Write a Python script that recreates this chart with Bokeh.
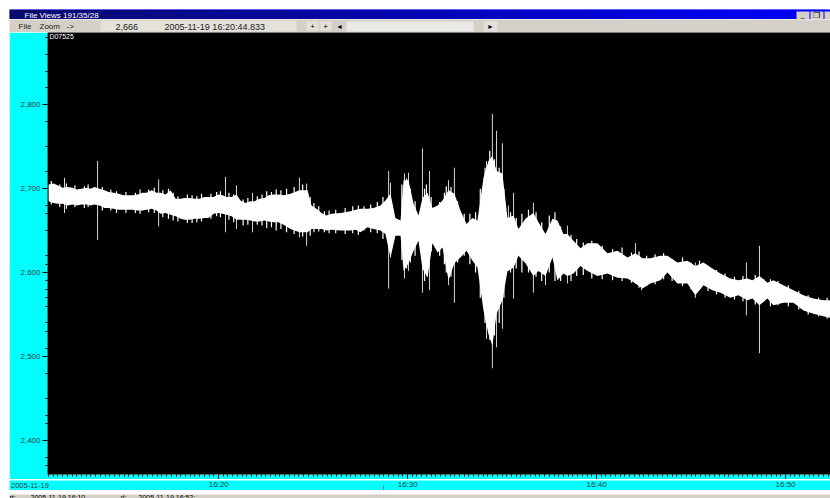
from bokeh.plotting import figure
from bokeh.models import FixedTicker, NumeralTickFormatter, Range1d
from bokeh.core.properties import value
from bokeh.layouts import column
from bokeh.embed import file_html
from bokeh.resources import INLINE
import numpy as np

# minutes after midnight, trace min/max envelope
t_min = [971.01, 971.27, 971.48, 971.75, 972.01, 972.28, 972.49, 972.75, 973.02, 973.23, 973.44, 973.70,
         973.97, 974.18, 974.45, 974.71, 974.97, 975.24, 975.45, 975.72, 975.98, 976.19, 976.46, 976.72,
         976.93, 977.20, 977.46, 977.73, 977.99, 978.20, 978.47, 978.73, 978.99, 979.26, 979.47, 979.74,
         980.00, 980.21, 980.42, 980.69, 980.95, 981.16, 981.43, 981.69, 981.90, 982.17, 982.43, 982.65,
         982.91, 983.17, 983.44, 983.81, 984.28, 984.71, 984.92, 985.18, 985.45, 985.71, 985.98, 986.45,
         986.98, 987.25, 987.51, 987.88, 988.20, 988.57, 988.83, 989.10, 989.36, 989.63, 989.79, 990.05,
         990.32, 990.58, 990.79, 991.06, 991.32, 991.59, 991.85, 992.17, 992.48, 992.80, 993.12, 993.44,
         993.70, 994.02, 994.28, 994.49, 994.71, 995.02, 995.29, 995.61, 995.87, 996.24, 996.66, 996.93,
         997.30, 997.67, 997.93, 998.25, 998.46, 998.78, 999.15, 999.52, 1000.05, 1000.58, 1001.11, 1001.64,
         1002.06, 1002.43, 1002.85, 1003.38, 1003.75, 1004.28, 1004.81, 1005.23, 1005.66, 1006.13, 1006.56,
         1007.08, 1007.51, 1007.98, 1008.25, 1008.62, 1009.04, 1009.36, 1009.89, 1010.42, 1010.95, 1011.48,
         1012.00, 1012.38]
env_hi = [2705, 2706, 2704, 2701, 2702, 2701, 2699, 2700, 2701, 2700, 2702, 2700,
          2698, 2696, 2695, 2694, 2692, 2692, 2692, 2693, 2695, 2695, 2698, 2695,
          2695, 2693, 2698, 2688, 2688, 2689, 2689, 2688, 2688, 2690, 2690, 2690,
          2693, 2692, 2690, 2690, 2693, 2686, 2683, 2685, 2685, 2688, 2689, 2692,
          2693, 2693, 2692, 2694, 2698, 2698, 2680, 2676, 2671, 2668, 2670, 2671,
          2673, 2675, 2676, 2676, 2677, 2680, 2686, 2694, 2665, 2662, 2710, 2710,
          2682, 2668, 2689, 2695, 2677, 2680, 2686, 2698, 2694, 2674, 2658, 2665,
          2662, 2713, 2733, 2739, 2721, 2718, 2665, 2668, 2652, 2664, 2671, 2660,
          2646, 2664, 2662, 2646, 2646, 2638, 2629, 2635, 2635, 2623, 2626, 2618,
          2623, 2617, 2617, 2620, 2620, 2612, 2614, 2608, 2612, 2605, 2599,
          2593, 2591, 2593, 2591, 2596, 2588, 2591, 2585, 2579, 2573, 2569,
          2567, 2567]
env_lo = [2685, 2683, 2682, 2682, 2680, 2681, 2680, 2681, 2681, 2680, 2681, 2680,
          2677, 2677, 2676, 2675, 2675, 2675, 2675, 2674, 2674, 2675, 2676, 2674,
          2670, 2671, 2669, 2667, 2664, 2663, 2663, 2664, 2664, 2665, 2665, 2670,
          2671, 2670, 2669, 2667, 2663, 2663, 2663, 2662, 2661, 2661, 2662, 2661,
          2660, 2660, 2657, 2652, 2648, 2648, 2652, 2652, 2652, 2650, 2651, 2650,
          2650, 2651, 2648, 2654, 2652, 2650, 2646, 2618, 2644, 2644, 2602, 2611,
          2626, 2638, 2605, 2594, 2635, 2624, 2630, 2591, 2611, 2618, 2626, 2614,
          2606, 2555, 2527, 2513, 2551, 2567, 2602, 2606, 2620, 2611, 2596, 2602,
          2596, 2618, 2591, 2599, 2596, 2599, 2608, 2602, 2596, 2599, 2594, 2593,
          2587, 2581, 2587, 2591, 2600, 2587, 2587, 2573, 2585, 2579, 2576,
          2570, 2573, 2567, 2569, 2561, 2569, 2561, 2564, 2564, 2555, 2551,
          2548, 2546]

# short white columns, the rough edge of the band
fuzz_t = [971.15, 971.6, 971.95, 972.4, 972.9, 973.1, 973.85, 974.3, 974.6, 975.1, 975.6, 975.85, 976.3, 976.6,
          977.05, 977.35, 977.6, 977.85, 978.35, 978.6, 978.85, 979.1, 979.6, 979.9, 980.1, 980.55, 980.8, 981.3,
          981.55, 982.05, 982.3, 982.55, 982.8, 983.05, 983.3, 983.6, 984.0, 984.45, 984.85, 985.05, 985.3, 985.6,
          985.85, 986.2, 986.7, 987.1, 987.4, 987.7, 988.05, 988.4, 988.7, 989.7, 989.95, 990.15, 990.4, 990.9,
          991.0, 991.25, 991.7, 991.95, 992.05, 992.3, 992.65, 993.0, 993.3, 993.6, 993.85, 994.1, 994.35, 994.6,
          994.85, 995.1, 995.45, 995.75, 996.05, 996.4, 996.8, 997.1, 997.5, 997.8, 998.1, 998.65, 998.95, 999.3,
          999.75, 1000.3, 1000.85, 1001.35, 1001.85, 1002.25, 1002.65, 1003.1, 1003.55, 1004.0, 1004.55, 1005.0,
          1005.45, 1005.9, 1006.35, 1006.8, 1007.3, 1007.75, 1008.4, 1008.85, 1009.2, 1009.6, 1010.15, 1010.7,
          1011.2, 1011.75, 1012.2]
fuzz_hi = [2709, 2705, 2706, 2704, 2703, 2705, 2702, 2699, 2697, 2696, 2695, 2699, 2699, 2701,
           2698, 2700, 2695, 2691, 2693, 2692, 2691, 2694, 2694, 2696, 2697, 2695, 2693, 2687,
           2689, 2691, 2693, 2697, 2696, 2699, 2698, 2700, 2702, 2705, 2690, 2683, 2679, 2673,
           2674, 2675, 2677, 2679, 2680, 2679, 2681, 2684, 2690, 2705, 2712, 2700, 2685, 2700,
           2705, 2690, 2684, 2695, 2703, 2702, 2685, 2670, 2670, 2672, 2700, 2725, 2745, 2735,
           2725, 2700, 2672, 2665, 2670, 2675, 2672, 2660, 2668, 2672, 2655, 2645, 2640, 2636,
           2638, 2632, 2628, 2630, 2624, 2625, 2620, 2622, 2623, 2616, 2618, 2612,
           2614, 2608, 2603, 2599, 2595, 2596, 2597, 2592, 2592, 2590, 2585, 2578,
           2573, 2570, 2570]
fuzz_lo = [2681, 2678, 2676, 2678, 2677, 2678, 2674, 2674, 2671, 2671, 2671, 2670, 2672, 2671,
           2666, 2664, 2662, 2661, 2659, 2659, 2660, 2661, 2664, 2667, 2666, 2663, 2660, 2656,
           2657, 2657, 2656, 2653, 2654, 2650, 2652, 2648, 2646, 2643, 2644, 2648, 2649, 2648,
           2647, 2647, 2646, 2647, 2645, 2650, 2648, 2647, 2640, 2615, 2605, 2612, 2620, 2590,
           2600, 2625, 2620, 2610, 2600, 2595, 2612, 2620, 2610, 2600, 2570, 2540, 2520, 2525,
           2540, 2570, 2600, 2605, 2600, 2600, 2595, 2590, 2600, 2590, 2590, 2590, 2596, 2597,
           2593, 2592, 2591, 2590, 2588, 2582, 2584, 2586, 2592, 2590, 2584, 2580,
           2580, 2578, 2574, 2570, 2568, 2566, 2562, 2566, 2560, 2561, 2560, 2556,
           2550, 2548, 2545]

# single sample spikes sticking out of the band
spike_t = [971.85, 973.60, 976.83, 980.37, 980.95, 981.80, 984.28, 984.66, 989.00, 989.10, 989.84, 990.05,
           990.79, 991.16, 992.17, 992.48, 994.18, 994.49, 994.71, 995.02, 995.34, 995.61, 996.66, 997.30,
           998.46, 1002.06, 1002.38, 1005.23, 1007.93, 1008.62]
spike_hi = [2713, 2733, 2711, 2714, 2704, 2695, 2713, 2706, 2721, 2707, 2718, 2719,
            2748, 2721, 2710, 2725, 2733, 2789, 2769, 2754, 2680, 2695, 2683, 2646,
            2656, 2635, 2617, 2612, 2612, 2632]
spike_lo = [2671, 2639, 2655, 2648, 2652, 2648, 2642, 2632, 2581, 2618, 2593, 2602,
            2576, 2579, 2585, 2564, 2521, 2486, 2511, 2533, 2602, 2569, 2576, 2585,
            2587, 2587, 2579, 2570, 2549, 2504]

y_major = [2400, 2500, 2600, 2700, 2800]
y_minor = [2880, 2860, 2840, 2820, 2780, 2750, 2720, 2680, 2670, 2650, 2620, 2610, 2590, 2580, 2570,
           2560, 2540, 2530, 2510, 2480, 2450, 2430, 2420, 2380, 2370]
x_major = [980, 990, 1000, 1010]
x_labels = ["16:20", "16:30", "16:40", "16:50"]

GRAY = "#d4d0c8"
CYAN = "#00ffff"
FONT = value("Liberation Sans")

p = figure(width=821, height=447, output_backend="svg", toolbar_location=None, margin=(0, 0, 0, 9),
           frame_align=False,
           x_range=Range1d(970.95, 1012.38), y_range=Range1d(2359.5, 2886),
           min_border_left=38, min_border_right=0, min_border_top=0, min_border_bottom=5,
           background_fill_color="black", border_fill_color=CYAN, outline_line_color=None)
p.grid.visible = False

p.segment(spike_t, spike_lo, spike_t, spike_hi, color="#d8d8d8", line_width=1)
p.varea(t_min, env_lo, env_hi, color="white")
p.segment(fuzz_t, fuzz_lo, fuzz_t, fuzz_hi, color="white", line_width=1.2)
p.text([971.05], [2881], text=["D07525"], text_font=FONT, text_font_size="7px", text_color="white",
       text_baseline="middle")

p.yaxis.ticker = FixedTicker(ticks=y_major, minor_ticks=y_minor)
p.yaxis.formatter = NumeralTickFormatter(format="0,0")
p.xaxis.ticker = FixedTicker(ticks=x_major, minor_ticks=list(np.arange(971, 1012.5, 0.25)))
for ax in (p.xaxis, p.yaxis):
    ax.axis_line_color = None
    ax.major_tick_line_color = "black"
    ax.minor_tick_line_color = "black"
    ax.major_tick_in = 0
    ax.minor_tick_in = 0
    ax.major_tick_out = 5
    ax.minor_tick_out = 2
    ax.major_label_standoff = 2
    ax.major_label_text_font = "Liberation Sans"
    ax.major_label_text_font_size = "8px"
    ax.major_label_text_color = "#1c3c40"
# the x labels sit in their own strip so the date can hang left of the frame
p.xaxis.major_label_overrides = {t: "" for t in x_major}
p.xaxis.major_label_standoff = 0


# window furniture, in picture pixels
def strip(y0, y1, color, top=0):
    f = figure(width=821, height=y1 - y0, output_backend="svg", toolbar_location=None, margin=(top, 0, 0, 9),
               frame_align=False,
               x_range=Range1d(9, 830), y_range=Range1d(y1, y0), x_axis_location=None, y_axis_location=None,
               min_border=0, background_fill_color=color, border_fill_color=color, outline_line_color=None)
    f.grid.visible = False
    return f


def box(f, x0, y0, x1, y1, color):
    f.quad(left=[x0], right=[x1], top=[y0], bottom=[y1], color=color, line_color=None)


def txt(f, x, y, s, size="8px", color="#222222", align="left"):
    f.text([x], [y], text=[s], text_font=FONT, text_font_size=size, text_color=color,
           text_align=align, text_baseline="middle")


bar = strip(8, 19, "#0000ff", top=8)
# title bar fades from navy to blue
for i in range(24):
    box(bar, 9 + i * 34, 8, 9 + (i + 1) * 34 + 1, 19,
        "#%02x%02x%02x" % (10 - i * 10 // 24, 10 - i * 10 // 24, 110 + i * 145 // 24))
box(bar, 796, 10, 809, 18, GRAY)
box(bar, 810, 10, 823, 18, GRAY)
box(bar, 824, 10, 830, 18, GRAY)
txt(bar, 802, 13, "_", color="black", align="center")
txt(bar, 816, 14, "\u2750", color="black", align="center")
txt(bar, 24, 14, "File Views 191/35/28", color="white")

tools = strip(19, 32, GRAY)
box(tools, 100, 20, 296, 31, "#e4e1da")
box(tools, 306, 21, 318, 30, "#e4e1da")
box(tools, 320, 21, 331, 30, "#e4e1da")
box(tools, 346, 21, 473, 31, "#ebe9e5")
box(tools, 483, 21, 497, 31, "#e4e1da")
txt(tools, 18, 26, "File")
txt(tools, 39, 26, "Zoom")
txt(tools, 66, 26, "->")
txt(tools, 115, 26, "2,666", size="9px")
txt(tools, 164, 26, "2005-11-19 16:20:44.833", size="9px")
txt(tools, 312, 26, "+", color="black", align="center")
txt(tools, 325, 26, "+", color="black", align="center")
txt(tools, 339, 26, "\u25c4", size="7px", color="black", align="center")
txt(tools, 490, 26, "\u25ba", size="7px", color="black", align="center")

labels = figure(width=821, height=11, output_backend="svg", toolbar_location=None, margin=(0, 0, 0, 9),
                frame_align=False,
                x_range=Range1d(968.92, 1012.38), y_range=Range1d(11, 0), x_axis_location=None, y_axis_location=None,
                min_border=0, background_fill_color=CYAN, border_fill_color=CYAN, outline_line_color=None)
labels.grid.visible = False
labels.text(x_major, [4] * len(x_major), text=x_labels, text_font=FONT, text_font_size="8px", text_color="#1c3c40",
            text_align="center", text_baseline="middle")
labels.text([969.0], [5], text=["2005-11-19"], text_font=FONT, text_font_size="7.5px", text_color="#1c3c40",
            text_baseline="middle")
labels.segment([988.72], [5], [988.72], [11], color="#a07070", line_width=1)

status = strip(490, 498, GRAY)
txt(status, 9, 493, "rt:", size="7px", color="black")
txt(status, 30, 493, "2005-11-19 16:10", size="7px", color="black")
txt(status, 120, 493, "d:", size="7px", color="black")
txt(status, 138, 493, "2005-11-19 16:52:", size="7px", color="black")

page = column(bar, tools, p, labels, status, spacing=0)
open("out.html", "w").write(file_html(page, INLINE))
